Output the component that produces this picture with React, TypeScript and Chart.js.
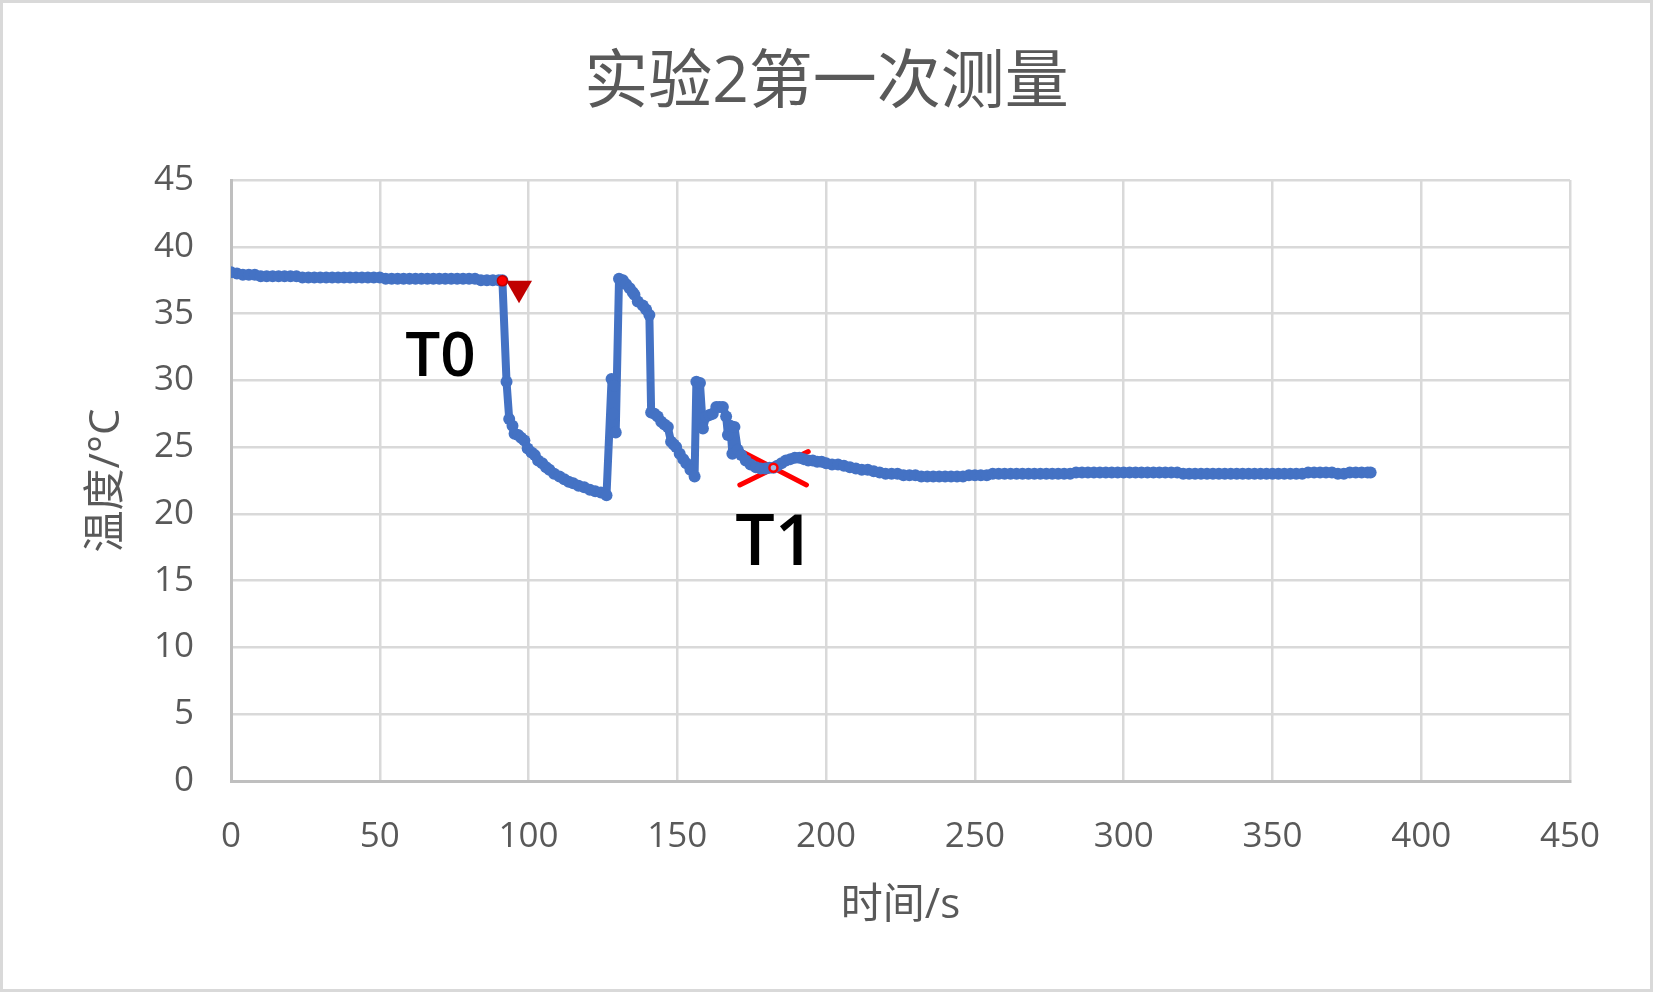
import React, { useEffect, useRef } from "react";
import { Chart, registerables } from "chart.js";

Chart.register(...registerables);

const chartTitle = "实验2第一次测量";
const xAxisTitle = "时间/s";
const yAxisTitle = "温度/°C";
const xMin = 0;
const xMax = 450;
const xStep = 50;
const yMin = 0;
const yMax = 45;
const yStep = 5;

// time (s)
const timeS = [
  0, 2, 4, 6, 8, 10, 12, 14, 16, 18, 20, 22, 24, 26, 28, 30, 32, 34, 36, 38, 40, 42, 44, 46, 48, 50,
  52, 54, 56, 58, 60, 62, 64, 66, 68, 70, 72, 74, 76, 78, 80, 82, 84, 86, 88, 90,
  91.2, 92.6, 93.5, 94.6, 95.3, 96.5, 97.5, 98.6, 99.7, 101.0, 102.1, 103.2, 104.6, 105.9, 107.0,
  108.6, 110.4, 112.0, 113.5, 115.0, 116.8, 118.7, 120.6, 122.4, 124.3, 126.2, 127.9, 128.4, 128.8,
  129.3, 130.4, 131.7, 132.8, 134.0, 135.0, 135.6, 136.7, 138.4, 139.5, 140.6, 141.2, 142.3, 143.4,
  144.6, 145.7, 146.8, 147.9, 148.8, 149.6, 150.8, 152.0, 153.0, 154.4, 155.8, 156.4, 157.6, 158.6,
  159.7, 160.8, 161.9, 163.1, 164.2, 165.3, 166.4, 167.0, 167.8, 168.5, 169.2, 170.3, 171.5, 173.0,
  174.6, 176.4, 178.0, 179.6, 181.0, 182.3, 183.6, 185.0, 186.5, 188.0, 189.5, 191.0, 192.5, 194.0,
  195.5, 197.0, 198.5,
  200, 202, 204, 206, 208, 210, 212, 214, 216, 218, 220, 222, 224, 226, 228, 230, 232, 234, 236, 238,
  240, 242, 244, 246, 248, 250, 252, 254, 256, 258, 260, 262, 264, 266, 268, 270, 272, 274, 276, 278,
  280, 282, 284, 286, 288, 290, 292, 294, 296, 298, 300, 302, 304, 306, 308, 310, 312, 314, 316, 318,
  320, 322, 324, 326, 328, 330, 332, 334, 336, 338, 340, 342, 344, 346, 348, 350, 352, 354, 356, 358,
  360, 362, 364, 366, 368, 370, 372, 374, 376, 378, 380, 382, 383,
];

// temperature (°C)
const tempC = [
  38.1, 38.0, 37.9, 37.9, 37.9, 37.8, 37.8, 37.8, 37.8, 37.8, 37.8, 37.8, 37.7, 37.7, 37.7, 37.7,
  37.7, 37.7, 37.7, 37.7, 37.7, 37.7, 37.7, 37.7, 37.7, 37.7, 37.6, 37.6, 37.6, 37.6, 37.6, 37.6,
  37.6, 37.6, 37.6, 37.6, 37.6, 37.6, 37.6, 37.6, 37.6, 37.6, 37.5, 37.5, 37.5, 37.5,
  37.5, 29.9, 27.1, 26.6, 26.0, 25.9, 25.7, 25.5, 24.9, 24.6, 24.4, 24.0, 23.8, 23.5, 23.3,
  23.0, 22.8, 22.6, 22.4, 22.3, 22.1, 22.0, 21.8, 21.7, 21.6, 21.4, 30.1, 27.5, 29.6,
  26.1, 37.6, 37.5, 37.2, 36.9, 36.6, 36.4, 35.9, 35.6, 35.3, 34.9, 27.6, 27.5, 27.3,
  26.9, 26.7, 26.5, 25.4, 25.2, 25.0, 24.5, 24.1, 23.8, 23.3, 22.8, 29.9, 29.8, 26.4,
  27.3, 27.4, 27.5, 28.0, 28.0, 28.0, 27.3, 25.9, 26.6, 24.5, 26.5, 24.8, 24.4, 24.0,
  23.7, 23.5, 23.4, 23.4, 23.45, 23.45, 23.6, 23.8, 24.0, 24.1, 24.2, 24.2, 24.1, 24.0,
  24.0, 23.9, 23.9,
  23.8, 23.7, 23.7, 23.6, 23.5, 23.4, 23.3, 23.3, 23.2, 23.1, 23.0, 23.0, 23.0, 22.9, 22.9, 22.9,
  22.8, 22.8, 22.8, 22.8, 22.8, 22.8, 22.8, 22.8, 22.9, 22.9, 22.9, 22.9,
  23.0, 23.0, 23.0, 23.0, 23.0, 23.0, 23.0, 23.0, 23.0, 23.0, 23.0, 23.0, 23.0, 23.0,
  23.1, 23.1, 23.1, 23.1, 23.1, 23.1, 23.1, 23.1, 23.1, 23.1, 23.1, 23.1, 23.1, 23.1, 23.1, 23.1, 23.1, 23.1,
  23.0, 23.0, 23.0, 23.0, 23.0, 23.0, 23.0, 23.0, 23.0, 23.0, 23.0, 23.0, 23.0, 23.0, 23.0, 23.0, 23.0, 23.0, 23.0, 23.0, 23.0,
  23.1, 23.1, 23.1, 23.1, 23.1, 23.0, 23.0, 23.1, 23.1, 23.1, 23.1, 23.1,
];

// annotations (data coordinates)
const t0PointX = [91.2];
const t0PointY = [37.45];
const t0ArrowX = [96.8];
const t0ArrowY = [36.9];
const t1PointX = [182.3];
const t1PointY = [23.45];
const crossAX = [171.0, 194.0];
const crossAY = [22.17, 24.67];
const crossBX = [171.6, 193.4];
const crossBY = [24.67, 22.17];
const markLabels = ["T0", "T1"];
const markLabelX = [70.4, 182.8];
const markLabelY = [30.34, 16.18];
const markLabelSize = [62, 70];

const FONT = "'Open Sans', 'Noto Sans CJK SC', sans-serif";
const GREY = "#595959";

const toPts = (xs: number[], ys: number[]) => xs.map((x, i) => ({ x, y: ys[i] }));

const decorPlugin = {
  id: "decor",
  afterDraw(chart: any) {
    const ctx = chart.ctx as CanvasRenderingContext2D;
    const { chartArea, scales } = chart;
    ctx.save();
    // outer border
    ctx.strokeStyle = "#D9D9D9";
    ctx.lineWidth = 3;
    ctx.strokeRect(1.5, 1.5, chart.width - 3, chart.height - 4);
    // title
    ctx.fillStyle = GREY;
    ctx.textAlign = "center";
    ctx.textBaseline = "middle";
    ctx.font = `64px ${FONT}`;
    ctx.fillText(chartTitle, chart.width / 2, 84);
    // x axis title
    ctx.font = `42px ${FONT}`;
    ctx.fillText(xAxisTitle, (chartArea.left + chartArea.right) / 2, 906);
    // y axis title
    ctx.save();
    ctx.translate(107, (chartArea.top + chartArea.bottom) / 2);
    ctx.rotate(-Math.PI / 2);
    ctx.fillText(yAxisTitle, 0, 0);
    ctx.restore();
    // T0 / T1 labels
    ctx.fillStyle = "#000000";
    ctx.textBaseline = "alphabetic";
    markLabels.forEach((t, i) => {
      ctx.font = `600 ${markLabelSize[i]}px ${FONT}`;
      ctx.fillText(t, scales.x.getPixelForValue(markLabelX[i]), scales.y.getPixelForValue(markLabelY[i]));
    });
    ctx.restore();
  },
};

export default function App() {
  const ref = useRef<HTMLCanvasElement | null>(null);
  useEffect(() => {
    if (!ref.current) return;
    const chart = new Chart(ref.current, {
      type: "scatter",
      data: {
        datasets: [
          {
            data: toPts(crossAX, crossAY),
            showLine: true,
            borderColor: "#FF0000",
            borderWidth: 5,
            borderCapStyle: "round",
            pointRadius: 0,
            order: 5,
          } as any,
          {
            data: toPts(crossBX, crossBY),
            showLine: true,
            borderColor: "#FF0000",
            borderWidth: 5,
            borderCapStyle: "round",
            pointRadius: 0,
            order: 5,
          } as any,
          {
            data: toPts(timeS, tempC),
            showLine: true,
            borderColor: "#4472C4",
            backgroundColor: "#4472C4",
            borderWidth: 8,
            borderJoinStyle: "round",
            borderCapStyle: "round",
            tension: 0,
            pointRadius: 6,
            pointBorderWidth: 0,
            pointBackgroundColor: "#4472C4",
            order: 3,
          } as any,
          {
            data: toPts(t0ArrowX, t0ArrowY),
            pointStyle: "triangle",
            rotation: 180,
            pointRadius: 15,
            pointBorderWidth: 0,
            pointBackgroundColor: "#C00000",
            order: 1,
          } as any,
          {
            data: toPts(t0PointX, t0PointY),
            pointRadius: 5,
            pointBorderWidth: 1.5,
            pointBorderColor: "#C00000",
            pointBackgroundColor: "#FF0000",
            order: 1,
          } as any,
          {
            data: toPts(t1PointX, t1PointY),
            pointRadius: 4,
            pointBorderWidth: 2.5,
            pointBorderColor: "#FF0000",
            pointBackgroundColor: "rgba(255,255,255,0.5)",
            order: 1,
          } as any,
        ],
      },
      options: {
        animation: false,
        responsive: false,
        devicePixelRatio: 1,
        layout: { padding: { top: 180, right: 83, left: 0, bottom: 0 } },
        plugins: {
          legend: { display: false },
          tooltip: { enabled: false },
          title: { display: false },
        },
        scales: {
          x: {
            type: "linear",
            min: xMin,
            max: xMax,
            ticks: {
              stepSize: xStep,
              color: GREY,
              font: { family: FONT, size: 35 },
              padding: 35,
            },
            grid: { color: "#D9D9D9", lineWidth: 2.5, drawTicks: false },
            border: { color: "#BFBFBF", width: 3 },
            afterFit(s: any) {
              s.height = 212;
            },
          },
          y: {
            type: "linear",
            min: yMin,
            max: yMax,
            ticks: {
              stepSize: yStep,
              color: GREY,
              font: { family: FONT, size: 35 },
              padding: 37,
            },
            grid: { color: "#D9D9D9", lineWidth: 2.5, drawTicks: false },
            border: { color: "#BFBFBF", width: 3 },
            afterFit(s: any) {
              s.width = 231;
            },
          },
        },
      },
      plugins: [decorPlugin],
    });
    return () => chart.destroy();
  }, []);
  return (
    <div style={{ position: "absolute", left: 0, top: 0, width: 1653, height: 993, background: "#fff" }}>
      <canvas ref={ref} width={1653} height={993} style={{ display: "block" }} />
    </div>
  );
}
